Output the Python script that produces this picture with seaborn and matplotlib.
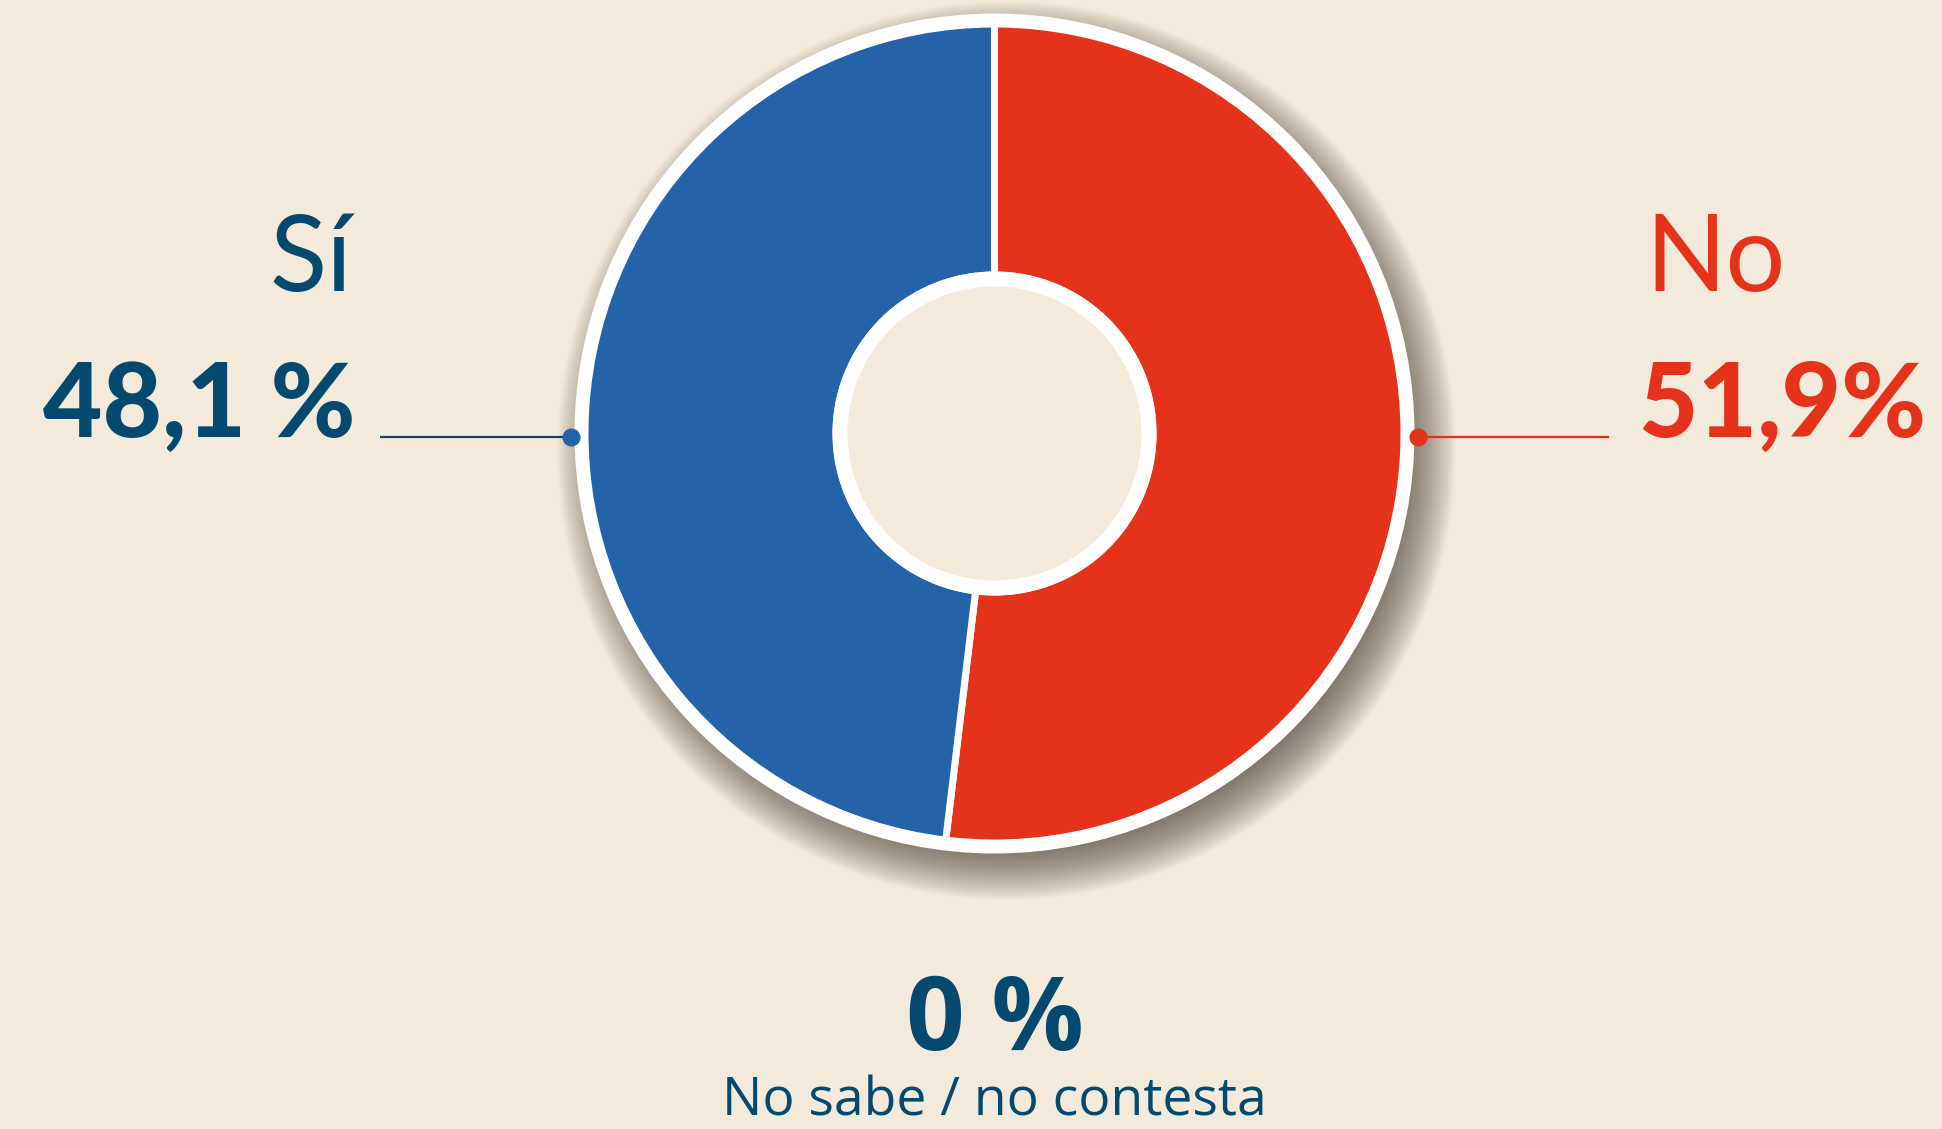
import matplotlib
matplotlib.use("Agg")
import matplotlib.pyplot as plt
from matplotlib.patches import Circle
import seaborn as sns

# ---- data ----
categories = ["Sí", "No", "No sabe / no contesta"]
values = [48.1, 51.9, 0.0]
value_labels = ["48,1 %", "51,9%", "0 %"]

# ---- style ----
BG = "#F3EADC"
NAVY = "#044A6F"
BLUE = "#2563A9"
RED = "#E5331B"

sns.set_theme(style="white", rc={"figure.facecolor": BG, "axes.facecolor": BG})
plt.rcParams["font.family"] = ["Lato", "DejaVu Sans"]
palette = sns.color_palette([BLUE, RED])

W, H = 1942, 1129
fig = plt.figure(figsize=(W / 100, H / 100), dpi=100)
ax = fig.add_axes([0, 0, 1, 1])
ax.set_facecolor(BG)

def fy(y):
    return H - y

cx, cy = 994.5, fy(433.5)
R_WHITE = 420
R_OUT = 406
R_IN = 162
R_HOLE = 147

# soft drop shadow (towards bottom-right)
n = 42
for i in range(n):
    ax.add_patch(Circle((cx + 12, cy - 17), R_WHITE - 20 + i * 1.2,
                        color="#3e362a", alpha=0.018, lw=0, zorder=1))
ax.add_patch(Circle((cx, cy), R_WHITE, color="white", lw=0, zorder=2))

# pie: No clockwise from top, then Sí
pie_vals = [values[1], values[0]]
pie_cols = [palette[1], palette[0]]
lw_px = 7
wedges, _ = ax.pie(pie_vals, colors=pie_cols, startangle=90, counterclock=False,
                   center=(cx, cy), radius=R_OUT + lw_px / 2,
                   wedgeprops=dict(width=(R_OUT - R_IN) + lw_px, edgecolor="white",
                                   linewidth=lw_px * 0.72))
for w in wedges:
    w.set_zorder(3)
ax.add_patch(Circle((cx, cy), R_IN, color="white", lw=0, zorder=4))
ax.add_patch(Circle((cx, cy), R_HOLE, color=BG, lw=0, zorder=5))

# leader lines
ly = fy(437)
ax.plot([380, 571], [ly, ly], color=NAVY, lw=1.6, zorder=6, solid_capstyle="butt")
ax.plot([571], [ly], "o", color=BLUE, ms=13, mew=0, zorder=7)
ax.plot([1418, 1609], [ly, ly], color=RED, lw=1.6, zorder=6, solid_capstyle="butt")
ax.plot([1418], [ly], "o", color=RED, ms=13, mew=0, zorder=7)

# labels
ax.text(352, fy(291), categories[0], ha="right", va="baseline", color=NAVY,
        fontsize=76, fontweight="normal", zorder=8)
ax.text(355, fy(437), value_labels[0], ha="right", va="baseline", color=NAVY,
        fontsize=74, fontweight="black", zorder=8)
ax.text(1645, fy(291), categories[1], ha="left", va="baseline", color=RED,
        fontsize=76, fontweight="normal", zorder=8)
ax.text(1638, fy(437), value_labels[1], ha="left", va="baseline", color=RED,
        fontsize=74, fontweight="black", zorder=8)

ax.text(995, fy(1050), value_labels[2], ha="center", va="baseline", color=NAVY,
        fontsize=74, fontweight="bold", family=["Open Sans", "DejaVu Sans"], zorder=8)
ax.text(994, fy(1116), categories[2], ha="center", va="baseline", color=NAVY,
        fontsize=38.5, fontweight="normal", family=["Open Sans", "DejaVu Sans"], zorder=8)

ax.set_xlim(0, W)
ax.set_ylim(0, H)
ax.set_aspect("equal")
ax.axis("off")

fig.savefig("out.png", dpi=100, facecolor=BG)
